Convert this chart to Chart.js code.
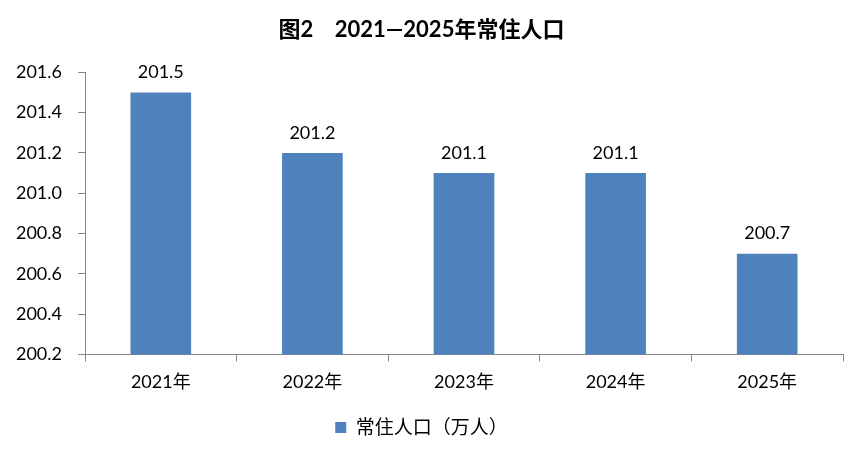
<!DOCTYPE html>
<html>
<head>
<meta charset="utf-8">
<script src="https://cdn.jsdelivr.net/npm/chart.js@4"></script>
<style>
  html, body { margin: 0; padding: 0; background: #fff; }
  #wrap { width: 862px; height: 460px; }
</style>
</head>
<body>
<div id="wrap"><canvas id="myChart"></canvas></div>
<script>
// 数据
var years = ['2021年', '2022年', '2023年', '2024年', '2025年'];
var population = [201.5, 201.2, 201.1, 201.1, 200.7];
var seriesName = '常住人口（万人）';
var yMin = 200.2, yMax = 201.6, yStep = 0.2;

var FONT = "Lato, 'Noto Sans CJK SC', sans-serif";

// 柱顶数值标签
var barLabels = {
    id: 'barLabels',
    afterDatasetsDraw: function (chart) {
        var ctx = chart.ctx;
        var meta = chart.getDatasetMeta(0);
        ctx.save();
        ctx.font = '18px ' + FONT;
        ctx.fillStyle = '#000';
        ctx.textAlign = 'center';
        ctx.textBaseline = 'middle';
        meta.data.forEach(function (bar, i) {
            ctx.fillText(population[i].toFixed(1), bar.x, bar.y - 20);
        });
        ctx.restore();
    }
};

var ctx = document.getElementById('myChart').getContext('2d');
var myChart = new Chart(ctx, {
    type: 'bar',
    data: {
        labels: years,
        datasets: [{
            label: seriesName,
            data: population,
            backgroundColor: '#4F81BD',
            borderWidth: 0,
            categoryPercentage: 1.0,
            barPercentage: 0.4
        }]
    },
    options: {
        responsive: true,
        maintainAspectRatio: false,
        animation: false,
        layout: { padding: { left: 0, right: 19, top: 0, bottom: 13 } },
        plugins: {
            title: {
                display: true,
                text: '图2    2021—2025年常住人口',
                color: '#000',
                font: { family: FONT, size: 22, weight: 'bold' },
                padding: { top: 17, bottom: 29 }
            },
            legend: {
                position: 'bottom',
                labels: {
                    color: '#000',
                    font: { family: FONT, size: 19 },
                    boxWidth: 11,
                    boxHeight: 11,
                    padding: 15
                }
            },
            tooltip: { enabled: false }
        },
        scales: {
            x: {
                grid: {
                    offset: true,
                    drawOnChartArea: false,
                    drawTicks: true,
                    tickLength: 7,
                    color: '#868686'
                },
                border: { display: true, color: '#868686' },
                ticks: { color: '#000', font: { family: FONT, size: 18 }, padding: 10 }
            },
            y: {
                min: yMin,
                max: yMax,
                afterFit: function (scale) { scale.width = 85; },
                grid: {
                    drawOnChartArea: false,
                    drawTicks: true,
                    tickLength: 7,
                    color: '#868686'
                },
                border: { display: true, color: '#868686' },
                ticks: {
                    stepSize: yStep,
                    color: '#000',
                    font: { family: FONT, size: 18 },
                    padding: 16,
                    callback: function (v) { return v.toFixed(1); }
                }
            }
        }
    },
    plugins: [barLabels]
});
</script>
</body>
</html>
